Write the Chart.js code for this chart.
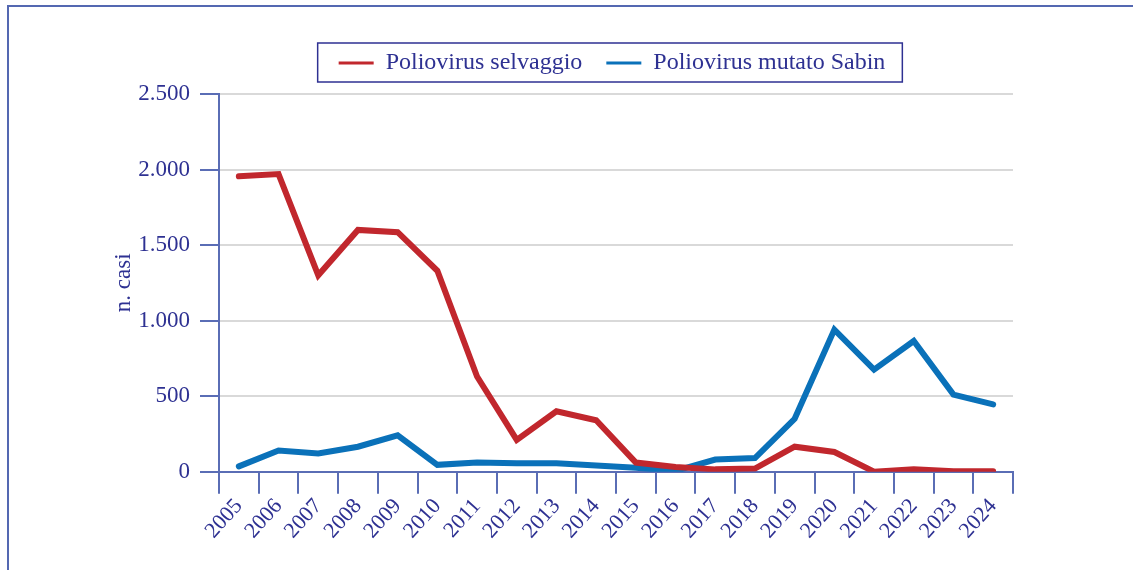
<!DOCTYPE html>
<html>
<head>
<meta charset="utf-8">
<script src="https://cdn.jsdelivr.net/npm/chart.js@4.4.1/dist/chart.umd.min.js"></script>
<style>
    html, body { margin: 0; padding: 0; background: #fff; }
    #frame {
        position: absolute; left: 7px; top: 5px; width: 1200px; height: 700px;
        border-left: 2px solid #5468b1; border-top: 2px solid #5468b1;
    }
    #wrap { position: absolute; left: 0; top: 0; width: 1133px; height: 570px; }
</style>
</head>
<body>
<div id="frame"></div>
<div id="wrap"><canvas id="polio-chart"></canvas></div>
<script>
// Casi di poliomielite nel mondo, 2005-2024
const years = ['2005', '2006', '2007', '2008', '2009', '2010', '2011', '2012', '2013', '2014',
    '2015', '2016', '2017', '2018', '2019', '2020', '2021', '2022', '2023', '2024'];
const wildCases = [1955, 1970, 1300, 1600, 1585, 1330, 630, 210, 400, 340,
    60, 30, 15, 20, 165, 130, 0, 15, 2, 2];
const sabinCases = [35, 140, 120, 165, 240, 45, 60, 55, 55, 40,
    25, 5, 80, 90, 350, 940, 675, 865, 510, 445];
const yTicks = [0, 500, 1000, 1500, 2000, 2500];

const textColor = '#2e3192';
const axisColor = '#5a6db5';
const serif = 'Liberation Serif';

function formatThousands(v) {
    return String(v).replace(/\B(?=(\d{3})+(?!\d))/g, '.');
}

// box around the legend + some extra room below it
const legendBorder = {
    id: 'legendBorder',
    beforeLayout(chart) {
        const lg = chart.legend;
        if (lg && !lg._extraRoom) {
            const fit = lg.fit.bind(lg);
            lg.fit = function () {
                fit();
                this.height += 9;
            };
            lg._extraRoom = true;
        }
    },
    afterDraw(chart) {
        const boxes = chart.legend && chart.legend.legendHitBoxes;
        if (!boxes || !boxes.length) return;
        let left = Infinity, right = -Infinity, top = Infinity, bottom = -Infinity;
        boxes.forEach(b => {
            left = Math.min(left, b.left);
            right = Math.max(right, b.left + b.width);
            top = Math.min(top, b.top);
            bottom = Math.max(bottom, b.top + b.height);
        });
        const ctx = chart.ctx;
        ctx.save();
        ctx.strokeStyle = textColor;
        ctx.lineWidth = 1.5;
        ctx.strokeRect(left - 21, top - 8, right - left + 38, bottom - top + 15);
        ctx.restore();
    }
};

new Chart(document.getElementById('polio-chart'), {
    type: 'line',
    data: {
        labels: years,
        datasets: [{
            label: 'Poliovirus selvaggio',
            data: wildCases,
            yAxisID: 'y',
            borderColor: '#c1272d',
            backgroundColor: '#c1272d',
            borderWidth: 6,
            borderCapStyle: 'round',
            pointRadius: 0,
            tension: 0
        }, {
            label: 'Poliovirus mutato Sabin',
            data: sabinCases,
            yAxisID: 'y',
            borderColor: '#0a71b9',
            backgroundColor: '#0a71b9',
            borderWidth: 6,
            borderCapStyle: 'round',
            pointRadius: 0,
            tension: 0
        }]
    },
    options: {
        responsive: true,
        maintainAspectRatio: false,
        animation: false,
        layout: { padding: { left: 91, right: 0, top: 27, bottom: 26 } },
        plugins: {
            tooltip: { enabled: false },
            legend: {
                position: 'top',
                labels: {
                    font: { family: serif, size: 24 },
                    color: textColor,
                    boxWidth: 35,
                    boxHeight: 3,
                    padding: 24,
                    generateLabels: function (chart) {
                        const items = Chart.defaults.plugins.legend.labels.generateLabels(chart);
                        items.forEach(item => { item.lineWidth = 0; });
                        return items;
                    }
                }
            }
        },
        scales: {
            x: {
                offset: true,
                grid: {
                    offset: true,
                    drawOnChartArea: false,
                    color: axisColor,
                    lineWidth: 2,
                    tickLength: 22
                },
                border: { color: axisColor, width: 2 },
                ticks: {
                    font: { family: serif, size: 22 },
                    color: textColor,
                    minRotation: 48,
                    maxRotation: 48,
                    padding: 0
                }
            },
            y: {
                min: 0,
                max: 2500,
                afterBuildTicks: function (axis) {
                    axis.ticks = yTicks.map(v => ({ value: v }));
                },
                afterFit: function (axis) {
                    axis.width = 128;
                },
                grid: {
                    color: '#d9d9d9',
                    lineWidth: 2,
                    tickColor: axisColor,
                    tickLength: 19
                },
                border: { color: axisColor, width: 2 },
                ticks: {
                    font: { family: serif, size: 23 },
                    color: textColor,
                    padding: 10,
                    callback: function (value) {
                        return formatThousands(value);
                    }
                },
                title: {
                    display: true,
                    text: 'n. casi',
                    font: { family: serif, size: 23 },
                    color: textColor,
                    padding: { top: 19, bottom: 0 }
                }
            },
            // empty space on the right side of the plot
            yRight: {
                position: 'right',
                grid: { display: false },
                border: { display: false },
                ticks: { display: false },
                afterFit: function (axis) {
                    axis.width = 120;
                }
            }
        }
    },
    plugins: [legendBorder]
});
</script>
</body>
</html>
